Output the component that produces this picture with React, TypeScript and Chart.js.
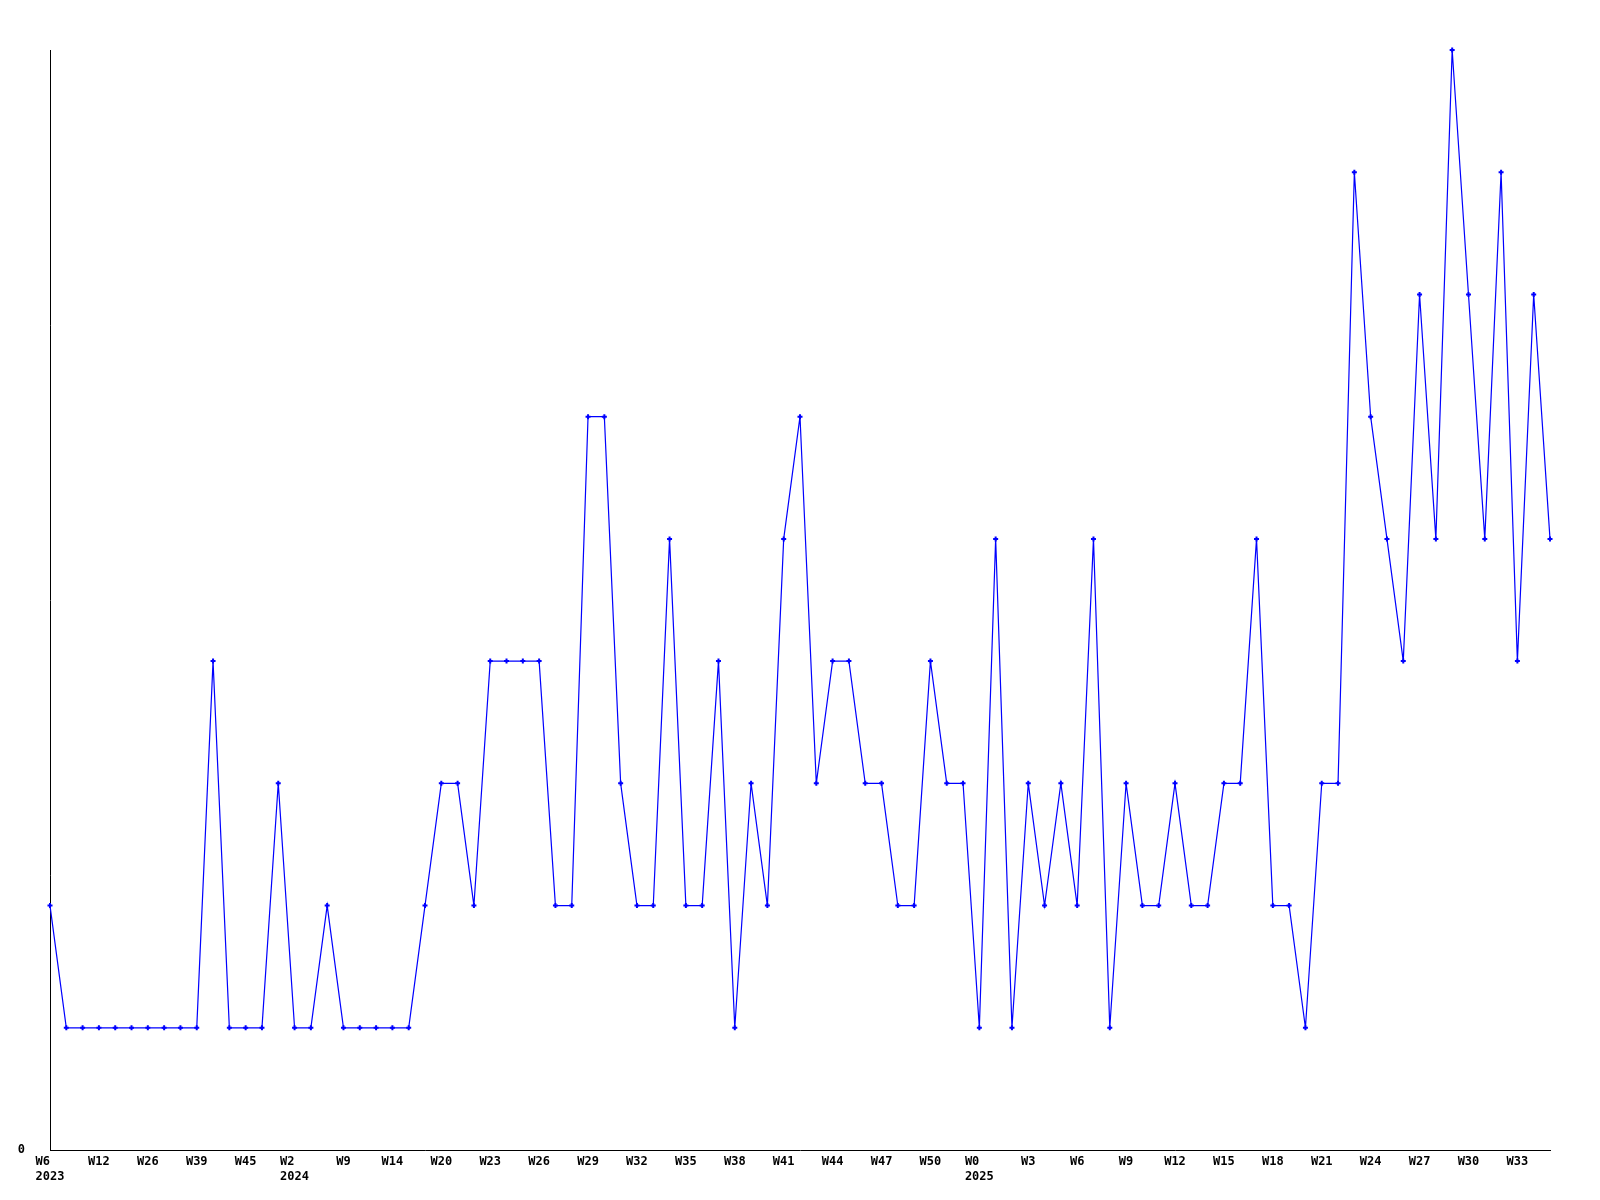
import React, { useEffect, useRef } from "react";
import { Chart, registerables } from "chart.js";

Chart.register(...registerables);

// Weekly values, one per plotted point (93 points)
const values: number[] = [
  2, 1, 1, 1, 1, 1, 1, 1, 1, 1,
  4, 1, 1, 1, 3, 1, 1, 2, 1, 1,
  1, 1, 1, 2, 3, 3, 2, 4, 4, 4,
  4, 2, 2, 6, 6, 3, 2, 2, 5, 2,
  2, 4, 1, 3, 2, 5, 6, 3, 4, 4,
  3, 3, 2, 2, 4, 3, 3, 1, 5, 1,
  3, 2, 3, 2, 5, 1, 3, 2, 2, 3,
  2, 2, 3, 3, 5, 2, 2, 1, 3, 3,
  8, 6, 5, 4, 7, 5, 9, 7, 5, 8,
  4, 7, 5,
];

// Tick labels shown on the x axis (every 3rd point)
const tickLabels: string[] = [
  "W6", "W12", "W26", "W39", "W45", "W2", "W9", "W14", "W20", "W23",
  "W26", "W29", "W32", "W35", "W38", "W41", "W44", "W47", "W50", "W0",
  "W3", "W6", "W9", "W12", "W15", "W18", "W21", "W24", "W27", "W30", "W33",
];
const tickStep = 3;

// Year sub-labels: position in tickLabels and the year text
const yearTickIndex: number[] = [0, 5, 19];
const yearText: string[] = ["2023", "2024", "2025"];

const yMin = 0;
const yMax = 9;

export default function App() {
  const canvasRef = useRef<HTMLCanvasElement | null>(null);

  useEffect(() => {
    const canvas = canvasRef.current;
    if (!canvas) return;

    const categories = values.map((_, i) => String(i));

    const tickText = (index: number): string | string[] => {
      if (index % tickStep !== 0) return "";
      const t = index / tickStep;
      const lbl = tickLabels[t];
      if (lbl === undefined) return "";
      const yi = yearTickIndex.indexOf(t);
      if (yi >= 0) {
        const yr = yearText[yi];
        const padded = lbl + " ".repeat(Math.max(0, yr.length - lbl.length));
        return [padded, yr];
      }
      return lbl;
    };

    const font = {
      family: "'DejaVu Sans Mono', monospace",
      size: 12,
      weight: "bold" as const,
      lineHeight: 1.25,
    };

    const chart = new Chart(canvas, {
      type: "line",
      data: {
        labels: categories,
        datasets: [
          {
            data: values,
            borderColor: "#0000ff",
            backgroundColor: "#0000ff",
            borderWidth: 1.2,
            tension: 0,
            pointStyle: "cross",
            pointRadius: 2.5,
            pointBorderWidth: 2,
            pointBorderColor: "#0000ff",
            pointBackgroundColor: "#0000ff",
            fill: false,
            clip: false as any,
          },
        ],
      },
      options: {
        animation: false,
        responsive: true,
        maintainAspectRatio: false,
        layout: { padding: { top: 50, right: 50, left: 0, bottom: 0 } },
        plugins: {
          legend: { display: false },
          tooltip: { enabled: false },
        },
        scales: {
          x: {
            type: "category",
            offset: false,
            grid: { display: false, drawTicks: false },
            border: { display: true, color: "#000000", width: 1 },
            ticks: {
              autoSkip: false,
              maxRotation: 0,
              minRotation: 0,
              padding: 4,
              color: "#000000",
              font,
              callback: (_v: any, index: number) => tickText(index),
            },
            afterFit: (scale: any) => {
              scale.height = 50;
            },
          },
          y: {
            min: yMin,
            max: yMax,
            grid: { display: false, drawTicks: false },
            border: { display: true, color: "#000000", width: 1 },
            afterBuildTicks: (scale: any) => {
              scale.ticks = [{ value: yMin }];
            },
            ticks: {
              padding: 25,
              color: "#000000",
              font,
              callback: (v: any) => String(v),
            },
            afterFit: (scale: any) => {
              scale.width = 50;
            },
          },
        },
      },
    });

    return () => {
      chart.destroy();
    };
  }, []);

  return (
    <div
      style={{
        position: "absolute",
        left: 0,
        top: 0,
        width: "1600px",
        height: "1200px",
        background: "#ffffff",
      }}
    >
      <canvas ref={canvasRef} />
    </div>
  );
}
